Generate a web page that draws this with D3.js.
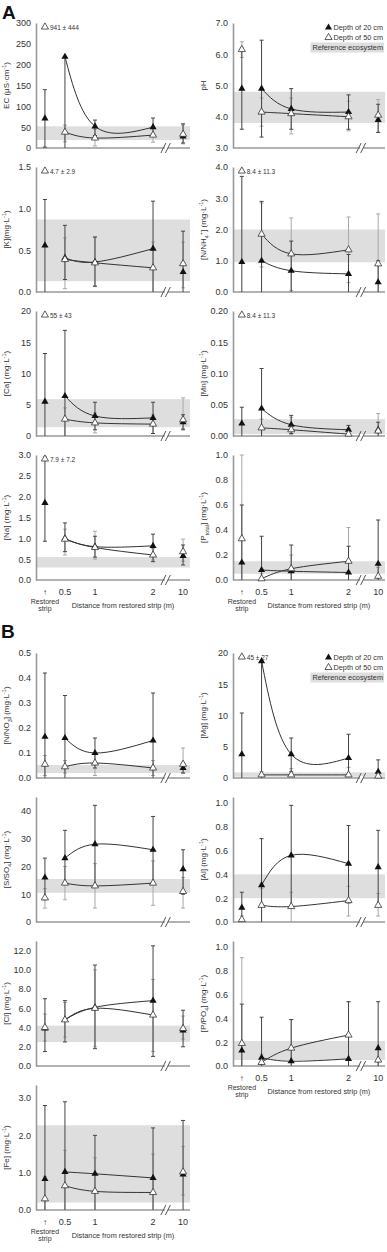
<!DOCTYPE html>
<html>
<head>
<meta charset="utf-8">
<script src="https://cdn.jsdelivr.net/npm/d3@7"></script>
<style>
body{margin:0;background:#fff;}
text{font-family:"Liberation Sans",Arial,sans-serif;fill:#333;}
</style>
</head>
<body>
<div id="chart"></div>
<script>
// categories on the x axis
var distances = ["Restored strip", "0.5", "1", "2", "10"];
var xTickLabels = ["\u2191", "0.5", "1", "2", "10"];

// each point: [mean, lower end of bar, upper end of bar]; null mean = off scale
var ec20 = [[71, 2, 140], [219, 0, 219], [52, 30, 67], [50, 33, 72], [28, 12, 58]];
var ec50 = [[null], [38, 15, 55], [24, 5, 45], [31, 14, 50], [33, 10, 55]];
var ph20 = [[4.9, 3.6, 6.2], [4.9, 3.35, 6.45], [4.25, 3.6, 4.9], [4.15, 3.6, 4.7], [3.9, 3.5, 4.4]];
var ph50 = [[6.15, 5.9, 6.4], [4.15, 3.7, 4.6], [4.1, 3.45, 4.6], [4.0, 3.55, 4.5], [4.05, 3.5, 4.55]];
var k20 = [[0.56, 0, 1.11], [0.41, 0.15, 0.8], [0.36, 0.07, 0.66], [0.52, 0, 1.09], [0.24, 0, 0.73]];
var k50 = [[null], [0.39, 0.04, 0.65], [0.35, 0.07, 0.66], [0.29, 0, 0.6], [0.34, 0.05, 0.6]];
var nh20 = [[0.96, 0, 3.7], [1.0, 0, 2.9], [0.68, 0, 1.63], [0.58, 0, 1.2], [0.31, 0, 1.0]];
var nh50 = [[null], [1.85, 0.8, 2.85], [1.22, 0.05, 2.37], [1.35, 0.3, 2.4], [0.9, 0, 2.5]];
var ca20 = [[5.5, 0, 13.2], [6.4, 0, 16.9], [3.2, 1.0, 5.4], [2.9, 0.4, 5.4], [2.2, 1.0, 3.4]];
var ca50 = [[null], [2.7, 0, 4.5], [2.1, 0.5, 3.7], [1.9, 0.4, 3.4], [2.6, 1.2, 6.1]];
var mn20 = [[0.02, 0, 0.046], [0.044, 0, 0.108], [0.018, 0.004, 0.033], [0.01, 0.002, 0.017], [0.01, 0, 0.022]];
var mn50 = [[null], [0.013, 0, 0.027], [0.01, 0.002, 0.03], [0.003, 0, 0.012], [0.008, 0, 0.036]];
var na20 = [[1.85, 0.93, 2.95], [1.0, 0.68, 1.37], [0.8, 0.55, 1.05], [0.82, 0.44, 1.1], [0.58, 0.36, 0.84]];
var na50 = [[null], [0.98, 0.6, 1.22], [0.78, 0.5, 1.17], [0.6, 0.48, 0.75], [0.68, 0.45, 0.98]];
var pt20 = [[0.14, 0, 0.6], [0.08, 0, 0.35], [0.07, 0, 0.28], [0.06, 0, 0.27], [0.13, 0, 0.48]];
var pt50 = [[0.33, 0, 1.0], [0.01, 0, 0.05], [0.09, 0, 0.2], [0.15, 0, 0.42], [0.03, 0, 0.1]];
var no20 = [[0.165, 0, 0.42], [0.16, 0, 0.33], [0.1, 0.04, 0.16], [0.15, 0, 0.34], [0.04, 0.02, 0.06]];
var no50 = [[0.055, 0.01, 0.09], [0.045, 0.02, 0.07], [0.06, 0.01, 0.1], [0.04, 0.01, 0.07], [0.055, 0.02, 0.12]];
var mg20 = [[3.8, 0, 10.4], [18.7, 0, 18.7], [3.8, 1, 6.4], [3.2, 0.5, 7.0], [1.0, 0, 2.9]];
var mg50 = [[null], [0.5, 0, 1.0], [0.5, 0.2, 1.5], [0.5, 0, 1.7], [0.3, 0, 0.8]];
var so20 = [[16, 8, 23], [23, 14, 33], [28, 13, 42], [26, 14, 38], [19, 10, 26]];
var so50 = [[8.7, 5, 12], [14, 8, 20], [13, 5, 21], [14, 6, 22], [11, 5, 16]];
var al20 = [[0.12, 0, 0.25], [0.31, 0, 0.7], [0.56, 0.12, 0.98], [0.49, 0.16, 0.81], [0.46, 0.14, 0.77]];
var al50 = [[0.02, 0, 0.05], [0.14, 0, 0.28], [0.13, 0, 0.25], [0.18, 0.05, 0.3], [0.14, 0.05, 0.24]];
var cl20 = [[3.9, 1.5, 7.0], [4.8, 2.5, 6.8], [6.1, 1.8, 10.5], [6.8, 1.0, 12.5], [3.7, 2.0, 5.8]];
var cl50 = [[4.0, 2.6, 5.4], [4.8, 3.0, 6.6], [6.0, 2.0, 10.0], [5.3, 1.5, 9.0], [3.9, 2.8, 5.2]];
var po20 = [[0.13, 0, 0.52], [0.07, 0, 0.41], [0.04, 0, 0.39], [0.06, 0, 0.54], [0.15, 0, 0.54]];
var po50 = [[0.19, 0, 0.91], [0.03, 0, 0.1], [0.15, 0, 0.39], [0.26, 0, 0.54], [0.05, 0, 0.15]];
var fe20 = [[0.83, 0, 2.8], [1.02, 0, 2.9], [0.97, 0, 2.0], [0.86, 0, 2.2], [0.95, 0, 2.4]];
var fe50 = [[0.3, 0, 0.9], [0.65, 0, 1.6], [0.5, 0, 1.4], [0.47, 0, 1.5], [1.02, 0.4, 1.7]];

// reference ecosystem ranges
var ecBand = [19, 52], phBand = [3.8, 4.8], kBand = [0.13, 0.87], nhBand = [0.95, 2.0];
var caBand = [1.4, 5.9], mnBand = [0.003, 0.027], naBand = [0.3, 0.55], ptBand = [0.05, 0.15];
var noBand = [0.02, 0.052], mgBand = [0.2, 0.9], soBand = [10.5, 15.5], alBand = [0.2, 0.4];
var clBand = [2.5, 4.2], poBand = [0.05, 0.21], feBand = [0.2, 2.27];

// y tick labels
var ecTicks = [0, 50, 100, 150, 200, 250, 300];
var phTicks = [3, 4, 5, 6, 7];
var kTicks = [0, 0.5, 1, 1.5];
var nhTicks = [0, 1, 2, 3, 4];
var caTicks = [0, 5, 10, 15, 20];
var mnTicks = [0, 0.05, 0.1, 0.15, 0.2];
var naTicks = [0, 0.5, 1, 1.5, 2, 2.5, 3];
var ptTicks = [0, 0.2, 0.4, 0.6, 0.8, 1];
var noTicks = [0, 0.1, 0.2, 0.3, 0.4, 0.5];
var mgTicks = [0, 5, 10, 15, 20];
var soTicks = [0, 10, 20, 30, 40];
var alTicks = [0, 0.2, 0.4, 0.6, 0.8, 1];
var clTicks = [0, 2, 4, 6, 8, 10, 12];
var poTicks = [0, 0.2, 0.4, 0.6, 0.8, 1];
var feTicks = [0, 1, 2, 3];

var panels = [
    {fig:"A", col:0, row:0, label:[["EC (\u03bcS\u00b7cm"],["-1","sup"],[")"]], domain:[0,300], ticks:ecTicks, fmt:"d", d20:ec20, d50:ec50, band:ecBand, note:"941 \u00b1 444"},
    {fig:"A", col:1, row:0, label:[["pH"]], domain:[3,7], ticks:phTicks, fmt:".1f", d20:ph20, d50:ph50, band:phBand, legend:true},
    {fig:"A", col:0, row:1, label:[["[K](mg\u00b7L"],["-1","sup"],[")"]], domain:[0,1.5], ticks:kTicks, fmt:".1f", d20:k20, d50:k50, band:kBand, note:"4.7 \u00b1 2.9"},
    {fig:"A", col:1, row:1, label:[["[N/NH"],["4","sub"],["+","sup"],["] (mg\u00b7L"],["-1","sup"],[")"]], domain:[0,4], ticks:nhTicks, fmt:".1f", d20:nh20, d50:nh50, band:nhBand, note:"8.4 \u00b1 11.3"},
    {fig:"A", col:0, row:2, label:[["[Ca] (mg\u00b7L"],["-1","sup"],[")"]], domain:[0,20], ticks:caTicks, fmt:"d", d20:ca20, d50:ca50, band:caBand, note:"55 \u00b1 43"},
    {fig:"A", col:1, row:2, label:[["[Mn] (mg\u00b7L"],["-1","sup"],[")"]], domain:[0,0.2], ticks:mnTicks, fmt:".2f", d20:mn20, d50:mn50, band:mnBand, note:"8.4 \u00b1 11.3"},
    {fig:"A", col:0, row:3, label:[["[Na] (mg\u00b7L"],["-1","sup"],[")"]], domain:[0,3], ticks:naTicks, fmt:".1f", d20:na20, d50:na50, band:naBand, note:"7.9 \u00b1 7.2", xaxis:true},
    {fig:"A", col:1, row:3, label:[["[P"],["total","sub"],["] (mg\u00b7L"],["-1","sup"],[")"]], domain:[0,1], ticks:ptTicks, fmt:".1f", d20:pt20, d50:pt50, band:ptBand, xaxis:true},
    {fig:"B", col:0, row:0, label:[["[N/NO"],["3","sub"],["] (mg\u00b7L"],["-1","sup"],[")"]], domain:[0,0.5], ticks:noTicks, fmt:".1f", d20:no20, d50:no50, band:noBand},
    {fig:"B", col:1, row:0, label:[["[Mg] (mg\u00b7L"],["-1","sup"],[")"]], domain:[0,20], ticks:mgTicks, fmt:"d", d20:mg20, d50:mg50, band:mgBand, note:"45 \u00b1 27", legend:true},
    {fig:"B", col:0, row:1, label:[["[S/SO"],["4","sub"],["] (mg\u00b7L"],["-1","sup"],[")"]], domain:[0,45], ticks:soTicks, fmt:"d", d20:so20, d50:so50, band:soBand},
    {fig:"B", col:1, row:1, label:[["[Al] (mg\u00b7L"],["-1","sup"],[")"]], domain:[0,1.05], ticks:alTicks, fmt:".1f", d20:al20, d50:al50, band:alBand},
    {fig:"B", col:0, row:2, label:[["[Cl] (mg\u00b7L"],["-1","sup"],[")"]], domain:[0,13], ticks:clTicks, fmt:".1f", d20:cl20, d50:cl50, band:clBand},
    {fig:"B", col:1, row:2, label:[["[P/PO"],["4","sub"],["] (mg\u00b7L"],["-1","sup"],[")"]], domain:[0,1.05], ticks:poTicks, fmt:".1f", d20:po20, d50:po50, band:poBand, xaxis:true},
    {fig:"B", col:0, row:3, label:[["[Fe] (mg\u00b7L"],["-1","sup"],[")"]], domain:[0,3.35], ticks:feTicks, fmt:".1f", d20:fe20, d50:fe50, band:feBand, xaxis:true}
];

var W = 387, H = 1252;
var cols = [{x: 36, w: 154}, {x: 233, w: 152}];
var rowTops = {A: [23, 167, 311, 455], B: [653, 797, 941, 1085]};
var panelH = 125;
var xFrac = d3.scaleOrdinal().domain(distances).range([0.058, 0.188, 0.383, 0.76, 0.955]);
var tri = d3.symbol().type(d3.symbolTriangle).size(22);

var svg = d3.select("#chart").append("svg").attr("width", W).attr("height", H);

svg.append("text").attr("x", 2).attr("y", 19).style("font-size", "19px").style("font-weight", "bold").style("fill", "#111").text("A");
svg.append("text").attr("x", 1).attr("y", 638).style("font-size", "19px").style("font-weight", "bold").style("fill", "#111").text("B");

panels.forEach(drawPanel);

function drawPanel(p) {
    var c = cols[p.col];
    var top = rowTops[p.fig][p.row];
    var g = svg.append("g").attr("transform", "translate(" + c.x + "," + top + ")");
    var x = d3.scaleLinear().domain([0, 1]).range([0, c.w]);
    var px = function (i) { return x(xFrac(distances[i])); };
    var y = d3.scaleLinear().domain(p.domain).range([panelH, 0]);
    var clip = function (v) { return y(Math.max(p.domain[0], Math.min(p.domain[1], v))); };

    g.append("rect")
        .attr("x", 0).attr("width", c.w)
        .attr("y", y(p.band[1])).attr("height", y(p.band[0]) - y(p.band[1]))
        .attr("fill", "#dedede");

    // y axis
    var ay = g.append("g").call(d3.axisLeft(y).tickValues(p.ticks).tickFormat(d3.format(p.fmt)).tickSize(0).tickPadding(5));
    ay.select(".domain").attr("stroke", "#999").attr("stroke-width", 1.6);
    ay.selectAll("text").style("font-size", "9px").attr("fill", "#333").style("font-family", "Liberation Sans, Arial, sans-serif");

    // x axis line with break
    g.append("line").attr("x1", 0).attr("x2", c.w).attr("y1", panelH).attr("y2", panelH)
        .attr("stroke", "#999").attr("stroke-width", 1.6);
    var bx = x(0.853);
    g.append("rect").attr("x", bx - 2.5).attr("y", panelH - 2).attr("width", 3).attr("height", 4).attr("fill", "#fff");
    [bx - 4, bx + 0.5].forEach(function (sx) {
        g.append("line").attr("x1", sx - 2.5).attr("y1", panelH + 5).attr("x2", sx + 2.5).attr("y2", panelH - 5)
            .attr("stroke", "#555").attr("stroke-width", 1);
    });

    // y title
    var yl = g.append("text")
        .attr("transform", "translate(-27," + (panelH / 2) + ") rotate(-90)")
        .attr("text-anchor", "middle")
        .style("font-size", "8px");
    p.label.forEach(function (part) {
        var ts = yl.append("tspan").text(part[0]);
        if (part[1] === "sup") ts.attr("baseline-shift", "super").style("font-size", "5.5px");
        if (part[1] === "sub") ts.attr("baseline-shift", "sub").style("font-size", "5.5px");
    });

    // curves through 0.5, 1 and 2 m
    var line = d3.line().x(function (d) { return px(d.i); }).y(function (d) { return y(d.v); }).curve(d3.curveNatural);
    [p.d20, p.d50].forEach(function (s) {
        var pts = [1, 2, 3].filter(function (i) { return s[i][0] != null; }).map(function (i) { return {i: i, v: s[i][0]}; });
        g.append("path").attr("d", line(pts)).attr("fill", "none").attr("stroke", "#333").attr("stroke-width", 1);
    });

    // error bars
    [[p.d50, "#a8a8a8"], [p.d20, "#444"]].forEach(function (sc) {
        sc[0].forEach(function (d, i) {
            if (d[0] == null) return;
            var xx = px(i);
            var y1 = clip(d[1]), y2 = clip(d[2]);
            g.append("line").attr("x1", xx).attr("x2", xx).attr("y1", y1).attr("y2", y2).attr("stroke", sc[1]).attr("stroke-width", 1);
            [y1, y2].forEach(function (yy) {
                if (yy >= panelH - 0.5) return;
                g.append("line").attr("x1", xx - 2).attr("x2", xx + 2).attr("y1", yy).attr("y2", yy).attr("stroke", sc[1]).attr("stroke-width", 1);
            });
        });
    });

    // points
    p.d20.forEach(function (d, i) {
        if (d[0] == null) return;
        g.append("path").attr("d", tri).attr("transform", "translate(" + px(i) + "," + y(d[0]) + ")").attr("fill", "#111");
    });
    p.d50.forEach(function (d, i) {
        if (d[0] == null) return;
        g.append("path").attr("d", tri).attr("transform", "translate(" + px(i) + "," + y(d[0]) + ")")
            .attr("fill", "#fff").attr("stroke", "#333").attr("stroke-width", 0.8);
    });

    // off-scale value at the restored strip
    if (p.note) {
        g.append("path").attr("d", tri).attr("transform", "translate(" + px(0) + ",4)")
            .attr("fill", "#fff").attr("stroke", "#333").attr("stroke-width", 0.8);
        g.append("text").attr("x", px(0) + 5).attr("y", 6.5).style("font-size", "6.5px").text(p.note);
    }

    if (p.legend) {
        var rx = c.w - 2;
        var t1 = g.append("text").attr("x", rx).attr("y", 7).attr("text-anchor", "end").style("font-size", "7.3px").text("Depth of 20 cm");
        var t2 = g.append("text").attr("x", rx).attr("y", 17).attr("text-anchor", "end").style("font-size", "7.3px").text("Depth of 50 cm");
        g.append("path").attr("d", tri).attr("transform", "translate(" + (rx - t1.node().getComputedTextLength() - 5) + ",4.5)").attr("fill", "#111");
        g.append("path").attr("d", tri).attr("transform", "translate(" + (rx - t2.node().getComputedTextLength() - 5) + ",14.5)")
            .attr("fill", "#fff").attr("stroke", "#333").attr("stroke-width", 0.8);
        var rb = g.append("rect").attr("y", 19.5).attr("height", 10).attr("fill", "#dedede");
        var t3 = g.append("text").attr("x", rx).attr("y", 27.3).attr("text-anchor", "end").style("font-size", "7.3px").text("Reference ecosystem");
        var tw = t3.node().getComputedTextLength();
        rb.attr("x", rx - tw - 2).attr("width", tw + 3);
    }

    if (p.xaxis) {
        g.selectAll(".xt").data(xTickLabels).enter().append("text")
            .attr("x", function (d, i) { return px(i); })
            .attr("y", panelH + 15)
            .attr("text-anchor", "middle")
            .style("font-size", function (d, i) { return i === 0 ? "8px" : "9px"; })
            .text(function (d) { return d; });
        g.append("text").attr("x", px(0)).attr("y", panelH + 24).attr("text-anchor", "middle").style("font-size", "7px").text("Restored");
        g.append("text").attr("x", px(0)).attr("y", panelH + 31).attr("text-anchor", "middle").style("font-size", "7px").text("strip");
        g.append("text").attr("x", x(0.565)).attr("y", panelH + 28).attr("text-anchor", "middle").style("font-size", "7.3px")
            .text("Distance from restored strip (m)");
    }
}
</script>
</body>
</html>
